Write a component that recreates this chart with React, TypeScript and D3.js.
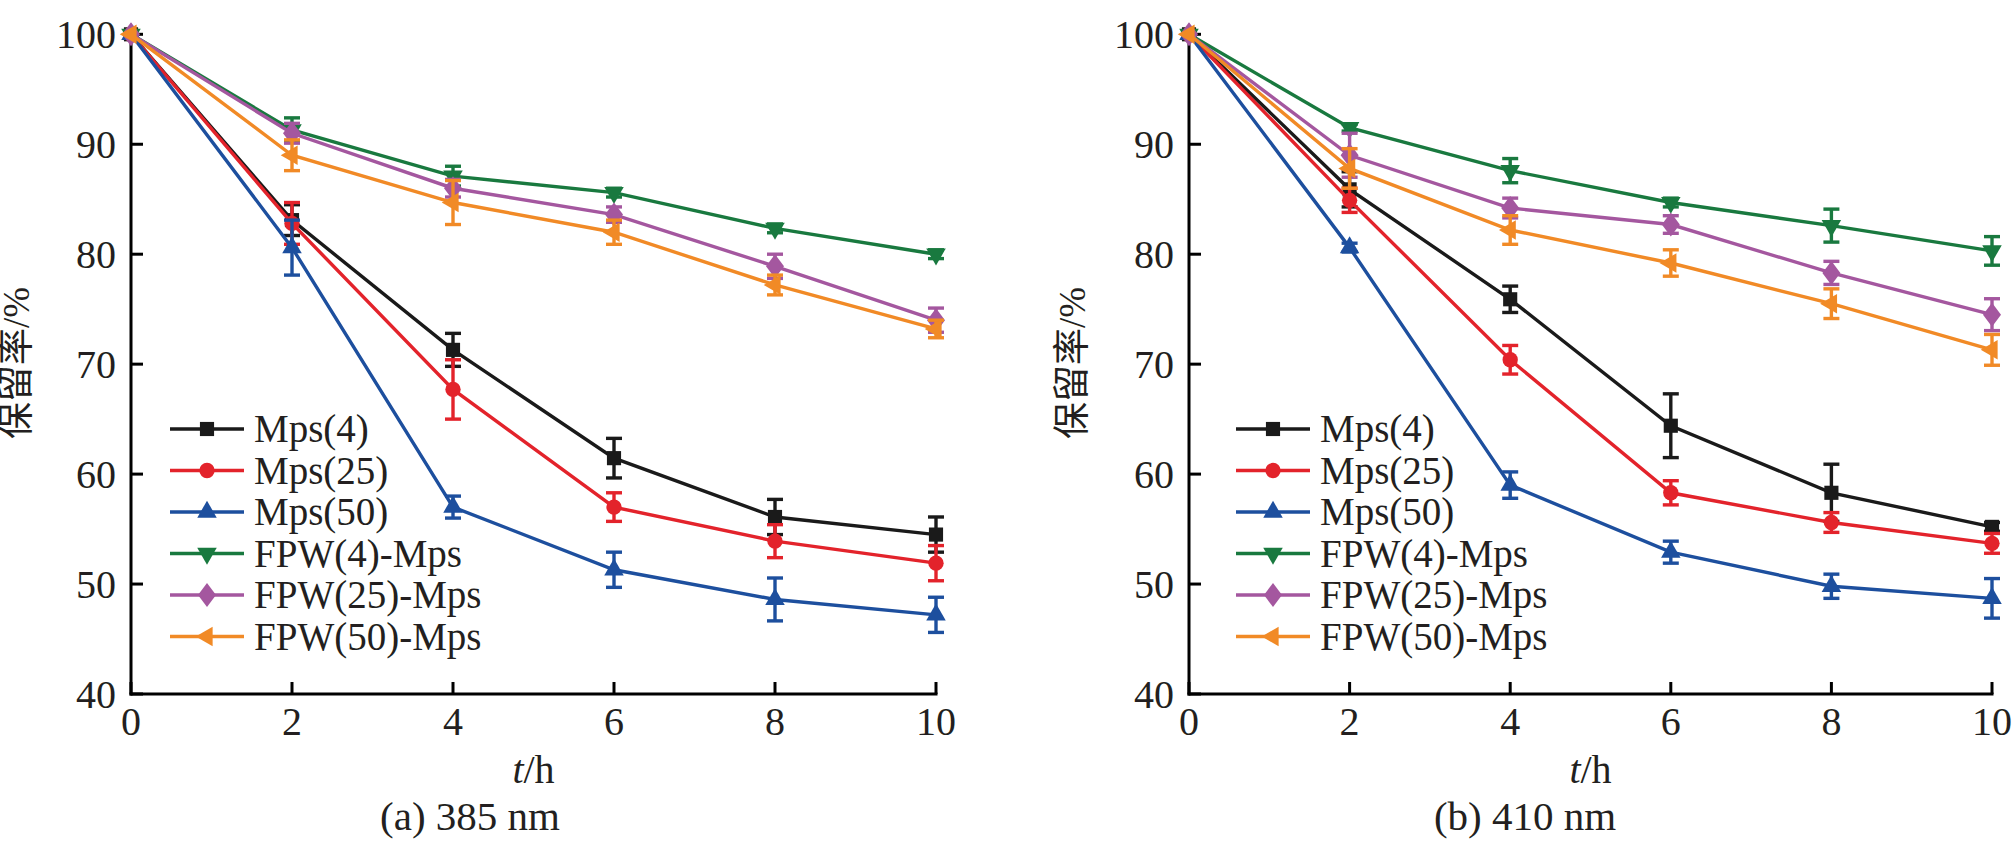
import React from 'react';
import * as d3 from 'd3';

// time points (h)
const hours = [0, 2, 4, 6, 8, 10];
const yTicks = [40, 50, 60, 70, 80, 90, 100];
const xTicks = [0, 2, 4, 6, 8, 10];

const seriesNames = ['Mps(4)', 'Mps(25)', 'Mps(50)', 'FPW(4)-Mps', 'FPW(25)-Mps', 'FPW(50)-Mps'];
const seriesColors = ['#1a1a1a', '#e3232b', '#1d4f9e', '#19793f', '#a4579f', '#f18a26'];
const seriesMarkers = ['square', 'circle', 'up', 'down', 'diamond', 'left'];

// (a) 385 nm
const mps4A = [100, 83.1, 71.3, 61.45, 56.1, 54.5];
const mps25A = [100, 82.8, 67.7, 57.0, 53.9, 51.9];
const mps50A = [100, 80.6, 57.0, 51.3, 48.6, 47.2];
const fpw4A = [100, 91.3, 87.1, 85.6, 82.35, 80.0];
const fpw25A = [100, 91.0, 86.0, 83.6, 78.9, 74.0];
const fpw50A = [100, 89.0, 84.7, 82.0, 77.2, 73.2];
const mps4AErr = [0, 1.4, 1.5, 1.8, 1.6, 1.6];
const mps25AErr = [0, 1.9, 2.7, 1.3, 1.5, 1.6];
const mps50AErr = [0, 2.5, 1.0, 1.6, 1.95, 1.6];
const fpw4AErr = [0, 1.1, 0.9, 0.4, 0.4, 0.4];
const fpw25AErr = [0, 0.9, 0.8, 0.7, 1.1, 1.1];
const fpw50AErr = [0, 1.4, 2.0, 1.1, 0.9, 0.8];

// (b) 410 nm
const mps4B = [100, 85.9, 75.9, 64.4, 58.3, 55.2];
const mps25B = [100, 84.9, 70.4, 58.3, 55.6, 53.7];
const mps50B = [100, 80.6, 59.0, 52.9, 49.8, 48.7];
const fpw4B = [100, 91.5, 87.6, 84.7, 82.6, 80.3];
const fpw25B = [100, 89.0, 84.2, 82.7, 78.3, 74.5];
const fpw50B = [100, 87.8, 82.2, 79.2, 75.5, 71.3];
const mps4BErr = [0, 1.6, 1.2, 2.9, 2.6, 0.4];
const mps25BErr = [0, 1.1, 1.3, 1.1, 0.9, 0.9];
const mps50BErr = [0, 0.4, 1.2, 1.0, 1.1, 1.8];
const fpw4BErr = [0, 0.3, 1.1, 0.4, 1.5, 1.3];
const fpw25BErr = [0, 2.0, 0.9, 0.8, 1.05, 1.45];
const fpw50BErr = [0, 1.8, 1.3, 1.2, 1.35, 1.4];

const W = 2013;
const H = 847;
const serif = '"Liberation Serif", "Times New Roman", serif';
const cjk = '"Noto Sans CJK SC", sans-serif';
const LW = 3.4;

const yScale = d3.scaleLinear().domain([40, 100]).range([694, 34.3]);

const markerPath = (kind: string) => {
  switch (kind) {
    case 'square':
      return d3.symbol().type(d3.symbolSquare).size(200)();
    case 'circle':
      return d3.symbol().type(d3.symbolCircle).size(185)();
    case 'diamond':
      return 'M0,-12L9,0L0,12L-9,0Z';
    default:
      return d3.symbol().type(d3.symbolTriangle).size(165)();
  }
};
const markerRot = (kind: string) => (kind === 'down' ? 180 : kind === 'left' ? -90 : 0);

const Marker = ({ kind, x, y, color }: any) => (
  <path
    d={markerPath(kind)}
    transform={`translate(${x},${y}) rotate(${markerRot(kind)})`}
    fill={color}
  />
);

const Panel = (props: any) => {
  const { x0, x1, values, errors, legendX, titleX, caption, captionX } = props;
  const xScale = d3.scaleLinear().domain([0, 10]).range([x0, x1]);
  const line = d3
    .line<number>()
    .x((_d, i) => xScale(hours[i]))
    .y((d) => yScale(d));
  const yBottom = yScale(40);
  const yTop = yScale(100);

  return (
    <g>
      {/* axes */}
      <line x1={x0} x2={x0} y1={yTop} y2={yBottom} stroke="#000" strokeWidth={3} strokeLinecap="square" />
      <line x1={x0} x2={x1} y1={yBottom} y2={yBottom} stroke="#000" strokeWidth={3} strokeLinecap="square" />
      {yTicks.map((t) => (
        <g key={`y${t}`}>
          <line x1={x0} x2={x0 + 12} y1={yScale(t)} y2={yScale(t)} stroke="#000" strokeWidth={3} />
          <text
            x={x0 - 15}
            y={yScale(t)}
            dy="0.34em"
            textAnchor="end"
            fontFamily={serif}
            fontSize={40}
            fill="#231f20"
          >
            {t}
          </text>
        </g>
      ))}
      {xTicks.map((t) => (
        <g key={`x${t}`}>
          <line x1={xScale(t)} x2={xScale(t)} y1={yBottom} y2={yBottom - 12} stroke="#000" strokeWidth={3} />
          <text x={xScale(t)} y={735} textAnchor="middle" fontFamily={serif} fontSize={40} fill="#231f20">
            {t}
          </text>
        </g>
      ))}

      {/* series */}
      {values.map((vals: number[], si: number) => (
        <g key={`s${si}`}>
          <path d={line(vals) || ''} fill="none" stroke={seriesColors[si]} strokeWidth={LW} />
          {vals.map((v, i) =>
            errors[si][i] > 0 ? (
              <g key={`e${i}`} stroke={seriesColors[si]} strokeWidth={LW}>
                <line x1={xScale(hours[i])} x2={xScale(hours[i])} y1={yScale(v - errors[si][i])} y2={yScale(v + errors[si][i])} />
                <line x1={xScale(hours[i]) - 8} x2={xScale(hours[i]) + 8} y1={yScale(v + errors[si][i])} y2={yScale(v + errors[si][i])} />
                <line x1={xScale(hours[i]) - 8} x2={xScale(hours[i]) + 8} y1={yScale(v - errors[si][i])} y2={yScale(v - errors[si][i])} />
              </g>
            ) : null
          )}
          {vals.map((v, i) => (
            <Marker key={`m${i}`} kind={seriesMarkers[si]} x={xScale(hours[i])} y={yScale(v)} color={seriesColors[si]} />
          ))}
        </g>
      ))}

      {/* legend */}
      {seriesNames.map((name, si) => {
        const ly = 429 + si * 41.5;
        return (
          <g key={`l${si}`}>
            <line x1={legendX} x2={legendX + 74} y1={ly} y2={ly} stroke={seriesColors[si]} strokeWidth={LW} />
            <Marker kind={seriesMarkers[si]} x={legendX + 37} y={ly} color={seriesColors[si]} />
            <text x={legendX + 84} y={ly + 13} fontFamily={serif} fontSize={39} fill="#231f20">
              {name}
            </text>
          </g>
        );
      })}

      {/* titles */}
      <text
        transform={`translate(${titleX},363) rotate(-90)`}
        textAnchor="middle"
        fontSize={37}
        fill="#231f20"
      >
        <tspan fontFamily={cjk}>保留率</tspan>
        <tspan fontFamily={serif}>/%</tspan>
      </text>
      <text x={(x0 + x1) / 2} y={783} textAnchor="middle" fontFamily={serif} fontSize={40} fill="#231f20">
        <tspan fontStyle="italic">t</tspan>/h
      </text>
      <text x={captionX} y={830} textAnchor="middle" fontFamily={serif} fontSize={41} fill="#231f20">
        {caption}
      </text>
    </g>
  );
};

const App = () => {
  return (
    <svg
      width={W}
      height={H}
      style={{ position: 'absolute', left: 0, top: 0, background: '#fff' }}
    >
      <Panel
        x0={131}
        x1={936}
        values={[mps4A, mps25A, mps50A, fpw4A, fpw25A, fpw50A]}
        errors={[mps4AErr, mps25AErr, mps50AErr, fpw4AErr, fpw25AErr, fpw50AErr]}
        legendX={170}
        titleX={29}
        caption="(a) 385 nm"
        captionX={470}
      />
      <Panel
        x0={1189}
        x1={1992}
        values={[mps4B, mps25B, mps50B, fpw4B, fpw25B, fpw50B]}
        errors={[mps4BErr, mps25BErr, mps50BErr, fpw4BErr, fpw25BErr, fpw50BErr]}
        legendX={1236}
        titleX={1085}
        caption="(b) 410 nm"
        captionX={1525}
      />
    </svg>
  );
};

export default App;
